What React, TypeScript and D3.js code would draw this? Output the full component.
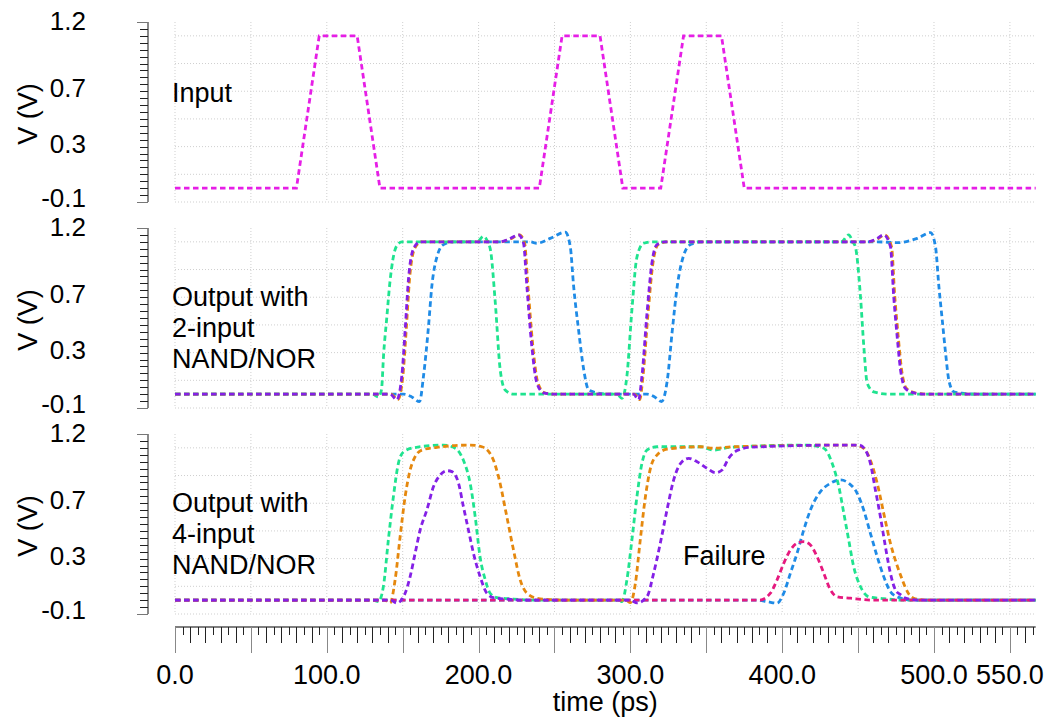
import { useEffect, useRef } from 'react';
import * as d3 from 'd3';

type Pt = [number, number];

// time (ps), voltage (V)
const inputWave: Pt[] = [[0, 0], [80, 0], [95, 1.1], [120, 1.1], [135, 0], [240, 0], [255, 1.1], [280, 1.1], [295, 0], [320, 0], [335, 1.1], [360, 1.1], [375, 0], [567, 0]];

const nand2Green: Pt[] = [[0, 0], [130, 0], [134, -0.02], [136, 0.03], [137.5, 0.3], [139.5, 0.55], [141.5, 0.8], [143.5, 0.97], [146, 1.07], [149.5, 1.1], [199, 1.1], [203.2, 1.14], [206, 1.1], [208, 1.03], [211, 0.66], [214.2, 0.18], [217.5, 0.03], [223, 0], [291, 0], [294.4, -0.03], [297.7, 0.13], [301, 0.61], [304.3, 0.99], [308.7, 1.09], [315, 1.1], [439, 1.1], [443.8, 1.15], [446.5, 1.1], [448.3, 1.06], [451.6, 0.7], [453.8, 0.34], [456, 0.08], [460.3, 0.017], [470, 0], [567, 0]];
const nand2Orange: Pt[] = [[0, 0], [142.4, 0], [146.8, -0.04], [150.1, 0.13], [152.3, 0.46], [154.5, 0.83], [157.8, 1.05], [162.2, 1.1], [214.7, 1.1], [220.7, 1.12], [227, 1.15], [230.3, 1.09], [232.5, 0.78], [235.8, 0.34], [239.1, 0.08], [243.5, 0.01], [251, 0], [302.7, 0], [306.1, -0.04], [308.3, 0.13], [311.6, 0.58], [314.9, 0.95], [318.2, 1.08], [323.7, 1.1], [456.7, 1.1], [462.7, 1.12], [467.6, 1.15], [472, 1.065], [474.2, 0.7], [476.4, 0.42], [478.6, 0.18], [481.9, 0.04], [487.4, 0.01], [496, 0], [567, 0]];
const nand2Purple: Pt[] = [[0, 0], [141.7, 0], [146.1, -0.04], [149.4, 0.13], [151.6, 0.46], [153.8, 0.83], [157.1, 1.05], [161.5, 1.1], [214, 1.1], [220, 1.12], [226.3, 1.15], [229.6, 1.09], [231.8, 0.78], [235.1, 0.34], [238.4, 0.08], [242.8, 0.01], [250, 0], [302, 0], [305.4, -0.04], [307.6, 0.13], [310.9, 0.58], [314.2, 0.95], [317.5, 1.08], [323, 1.1], [456, 1.1], [462, 1.12], [466.9, 1.15], [471.3, 1.065], [473.5, 0.7], [475.7, 0.42], [477.9, 0.18], [481.2, 0.04], [486.7, 0.01], [495, 0], [567, 0]];
const nand2Blue: Pt[] = [[0, 0], [150.5, 0], [156, -0.02], [161.1, -0.054], [163.7, 0.13], [167, 0.49], [169.2, 0.78], [172.5, 0.99], [176.9, 1.08], [183.5, 1.1], [234, 1.1], [238.4, 1.09], [247.2, 1.125], [257.1, 1.17], [260.4, 1.065], [262.6, 0.78], [265.9, 0.46], [269.2, 0.18], [272.5, 0.03], [278, 0.01], [285, 0], [311, 0], [316, -0.02], [320.5, -0.054], [324.3, 0.1], [327.6, 0.46], [331, 0.79], [335, 1.0], [339.5, 1.08], [346, 1.1], [462.6, 1.1], [475.7, 1.094], [489, 1.125], [497.7, 1.167], [501, 1.065], [503.2, 0.78], [505.4, 0.54], [507.6, 0.3], [509.8, 0.1], [513.1, 0.017], [519.7, 0.005], [527, 0], [567, 0]];

const nand4Green: Pt[] = [[0, 0], [130.7, 0], [134, -0.01], [137.3, 0.1], [140.6, 0.44], [143.9, 0.75], [147.2, 0.99], [150.5, 1.07], [157.1, 1.1], [176.9, 1.12], [184.6, 1.097], [190, 1.01], [194.5, 0.84], [197.8, 0.6], [201, 0.31], [204.4, 0.146], [207.6, 0.05], [212, 0.018], [223, 0.008], [235, 0], [291, 0], [294.4, -0.01], [297.7, 0.146], [301, 0.435], [304.3, 0.747], [307.6, 0.988], [310.9, 1.084], [317.5, 1.108], [346, 1.108], [354.9, 1.084], [365.9, 1.104], [416.4, 1.12], [427.4, 1.097], [432.9, 0.988], [437.3, 0.82], [440.6, 0.627], [443.8, 0.435], [447.1, 0.242], [451.6, 0.097], [457, 0.025], [466.9, 0.011], [480, 0], [567, 0]];
const nand4Orange: Pt[] = [[0, 0], [138, 0], [141.7, -0.02], [145, 0.146], [148.3, 0.458], [151.6, 0.747], [154.9, 0.94], [158.2, 1.036], [162.6, 1.084], [172.5, 1.104], [194.5, 1.12], [202.2, 1.108], [208.8, 1.036], [213.1, 0.892], [218.6, 0.603], [223, 0.362], [227.4, 0.146], [231.8, 0.05], [238.4, 0.014], [249.4, 0.003], [260, 0], [297, 0], [300, -0.018], [303.3, 0.122], [306.5, 0.435], [309.9, 0.747], [313.2, 0.952], [317.5, 1.048], [324.1, 1.09], [346, 1.108], [354.9, 1.097], [368, 1.108], [447.1, 1.12], [453.7, 1.097], [458.1, 1.01], [462.6, 0.844], [466.9, 0.627], [471.3, 0.411], [475.7, 0.25], [478, 0.18], [481.2, 0.09], [483.4, 0.045], [486.7, 0.014], [495, 0], [567, 0]];
const nand4Purple: Pt[] = [[0, 0], [142, 0], [146.1, -0.02], [151.6, 0.05], [154.9, 0.17], [158.2, 0.339], [161.5, 0.507], [165.9, 0.651], [170.3, 0.82], [174.7, 0.904], [179.1, 0.935], [182.4, 0.928], [186.8, 0.844], [190, 0.675], [193.3, 0.507], [196.6, 0.339], [201, 0.17], [205.4, 0.05], [209.8, 0.018], [218.6, 0.008], [230, 0], [300, 0], [304.3, -0.02], [310.9, 0.025], [315.3, 0.194], [319.7, 0.411], [324.1, 0.651], [328.5, 0.868], [334, 1.0], [338.4, 1.024], [343.9, 1.0], [350.5, 0.952], [356, 0.92], [360.4, 0.94], [364.7, 1.024], [370.3, 1.08], [379, 1.104], [438.4, 1.12], [450.5, 1.12], [454.8, 1.084], [458.1, 0.988], [461.4, 0.796], [464.7, 0.603], [468, 0.386], [471.3, 0.194], [474.6, 0.074], [477.9, 0.04], [481.2, 0.014], [490, 0], [567, 0]];
const nand4Blue: Pt[] = [[0, 0], [383, 0], [390, -0.01], [396.6, -0.022], [401, 0.05], [405.4, 0.194], [409.8, 0.339], [414.2, 0.507], [418.6, 0.651], [425.2, 0.784], [431.8, 0.844], [438.4, 0.868], [443.9, 0.844], [449.4, 0.772], [453.7, 0.651], [458.1, 0.483], [462.6, 0.314], [466.9, 0.17], [471.3, 0.061], [475.7, 0.025], [485, 0], [567, 0]];
const nand4Pink: Pt[] = [[0, 0], [385, 0], [392.2, 0.05], [396.6, 0.146], [401, 0.266], [405.4, 0.362], [409.8, 0.411], [414.2, 0.422], [418.6, 0.398], [423, 0.314], [427.4, 0.194], [431.8, 0.074], [436.2, 0.025], [445, 0.014], [460, 0], [567, 0]];

const yTickLabels = [1.2, 0.7, 0.3, -0.1];
const xTickLabels = [0, 100, 200, 300, 400, 500, 550];

const C = {
  input: '#e61ee6',
  green: '#1fe38f',
  orange: '#e5880e',
  purple: '#8420e6',
  blue: '#1f8be6',
  pink: '#e6197f'
};

const panels = [
  { top: 22, note: ['Input'], series: [{ c: C.input, d: inputWave, linear: true }] },
  {
    top: 228,
    note: ['Output with', '2-input', 'NAND/NOR'],
    series: [
      { c: C.blue, d: nand2Blue }, { c: C.green, d: nand2Green },
      { c: C.orange, d: nand2Orange }, { c: C.purple, d: nand2Purple }
    ]
  },
  {
    top: 434,
    note: ['Output with', '4-input', 'NAND/NOR'],
    series: [
      { c: C.blue, d: nand4Blue }, { c: C.green, d: nand4Green },
      { c: C.orange, d: nand4Orange }, { c: C.pink, d: nand4Pink }, { c: C.purple, d: nand4Purple }
    ]
  }
];

export default function App() {
  const svgRef = useRef(null);

  useEffect(() => {
    if (!svgRef.current) return;
    const width = 1053;
    const height = 719;
    const panelH = 180;
    const font = '"Liberation Sans", Arial, Helvetica, sans-serif';

    const svg = d3.select(svgRef.current);
    svg.selectAll('*').remove();
    svg.attr('width', width).attr('height', height);
    svg.append('rect').attr('width', width).attr('height', height).attr('fill', '#fff');

    const x = d3.scaleLinear().domain([0, 567]).range([175, 1035.7]);
    const [x0, x1] = x.range();

    panels.forEach(p => {
      const y = d3.scaleLinear().domain([-0.1, 1.2]).range([p.top + panelH, p.top]);
      const g = svg.append('g');

      // grid
      const hGrid = d3.range(7).map(i => -0.1 + i * 0.2);
      g.selectAll('.hg').data(hGrid).enter().append('line')
        .attr('x1', x0).attr('x2', x1)
        .attr('y1', d => y(d)).attr('y2', d => y(d))
        .attr('stroke', '#cfcfcf').attr('stroke-width', 1).attr('stroke-dasharray', '1,2');
      g.selectAll('.vg').data(d3.range(0, 551, 50)).enter().append('line')
        .attr('x1', d => x(d)).attr('x2', d => x(d))
        .attr('y1', p.top).attr('y2', p.top + panelH)
        .attr('stroke', '#cfcfcf').attr('stroke-width', 1).attr('stroke-dasharray', '1,2');

      // y axis
      g.append('line').attr('x1', 148).attr('x2', 148).attr('y1', p.top).attr('y2', p.top + panelH)
        .attr('stroke', '#8a8a8a').attr('stroke-width', 2);
      const yTicks = d3.range(27).map(i => -0.1 + i * 0.05);
      g.selectAll('.yt').data(yTicks).enter().append('line')
        .attr('x1', (d, i) => (i === 0 || i === 26 ? 137 : 140)).attr('x2', 148)
        .attr('y1', d => Math.round(y(d)) + 0.5).attr('y2', d => Math.round(y(d)) + 0.5)
        .attr('stroke', (d, i) => (i === 0 || i === 26 ? '#777' : '#222')).attr('stroke-width', 1);
      g.selectAll('.yl').data(yTickLabels).enter().append('text')
        .attr('x', 86).attr('y', d => y(d) + (d === 1.2 ? 8 : d === -0.1 ? 5 : 6))
        .attr('text-anchor', 'end').attr('font-family', font).attr('font-size', 26)
        .attr('fill', '#000').text(d => d.toFixed(1));
      g.append('text')
        .attr('transform', `translate(37, ${p.top + panelH / 2 + 2}) rotate(-90)`)
        .attr('text-anchor', 'middle').attr('font-family', font).attr('font-size', 27)
        .text('V (V)');

      // annotation
      const n = p.note.length;
      const base = n === 1 ? p.top + 80 : p.top + 78;
      p.note.forEach((line, i) => {
        g.append('text').attr('x', 172).attr('y', base + i * 31)
          .attr('font-family', font).attr('font-size', 27).text(line);
      });

      // curves
      p.series.forEach(s => {
        const line = d3.line<Pt>()
          .x(d => x(d[0]))
          .y(d => y(d[1]))
          .curve(s.linear ? d3.curveLinear : d3.curveMonotoneX);
        g.append('path').attr('d', line(s.d))
          .attr('fill', 'none').attr('stroke', s.c).attr('stroke-width', 2.8)
          .attr('stroke-dasharray', '5.5,3.5');
      });

      if (p.top === 434) {
        g.append('text').attr('x', 683).attr('y', 565)
          .attr('font-family', font).attr('font-size', 27).text('Failure');
      }
    });

    // x axis
    const axY = 627;
    svg.append('line').attr('x1', x0).attr('x2', x1).attr('y1', axY).attr('y2', axY)
      .attr('stroke', '#555').attr('stroke-width', 1.5);
    const xTicks = d3.range(0, 567, 5);
    svg.selectAll('.xt').data(xTicks).enter().append('line')
      .attr('x1', d => Math.round(x(d)) + 0.5).attr('x2', d => Math.round(x(d)) + 0.5)
      .attr('y1', axY)
      .attr('y2', d => axY + (d % 50 === 0 ? 26 : d % 10 === 0 ? 16 : 8))
      .attr('stroke', d => (d % 50 === 0 ? '#888' : '#222')).attr('stroke-width', 1);
    svg.selectAll('.xl').data(xTickLabels).enter().append('text')
      .attr('x', d => x(d)).attr('y', 684)
      .attr('text-anchor', 'middle').attr('font-family', font).attr('font-size', 27)
      .text(d => d.toFixed(1));
    svg.append('text').attr('x', (x0 + x1) / 2).attr('y', 711)
      .attr('text-anchor', 'middle').attr('font-family', font).attr('font-size', 27)
      .text('time (ps)');
  }, []);

  return (
    <div style={{ position: 'absolute', left: 0, top: 0 }}>
      <svg ref={svgRef} style={{ display: 'block' }} />
    </div>
  );
}
